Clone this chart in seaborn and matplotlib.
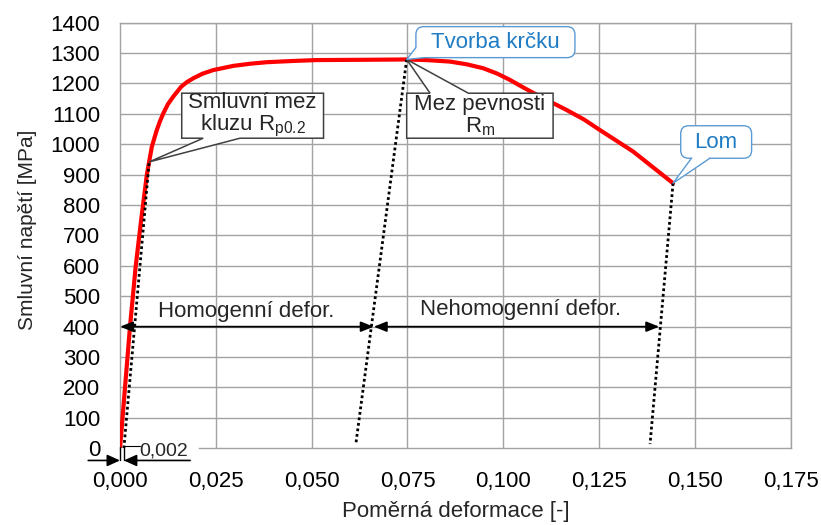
import matplotlib
matplotlib.use("Agg")
import matplotlib.pyplot as plt
import seaborn as sns
import pandas as pd
from matplotlib.patches import Polygon, FancyBboxPatch

# ---------------- data ----------------
strain = [0.0, 0.0013, 0.0026, 0.0041, 0.0055, 0.0070, 0.0077, 0.0083, 0.0090,
          0.0096, 0.0104, 0.0113, 0.0125, 0.0139, 0.0160, 0.0175, 0.0191, 0.0215,
          0.0243, 0.0296, 0.0340, 0.0383, 0.0450, 0.0513, 0.0644, 0.0748, 0.0800,
          0.0861, 0.0905, 0.0948, 0.0985, 0.1017, 0.1055, 0.1096, 0.1165, 0.1210,
          0.1252, 0.1295, 0.1339, 0.1390, 0.1443]
stress = [0, 200, 400, 600, 750, 900, 950, 992, 1022,
          1047, 1075, 1102, 1132, 1157, 1190, 1205, 1217, 1232,
          1244, 1258, 1265, 1270, 1274, 1277, 1278, 1279, 1277,
          1272, 1263, 1250, 1232, 1212, 1185, 1157, 1113, 1082,
          1047, 1012, 976, 925, 872]

yield_pt = (0.0076, 942)          # Rp0.2
peak_pt = (0.0748, 1279)          # Rm / Tvorba krčku
fracture_pt = (0.1443, 872)       # Lom

offset_x = [0.0010, yield_pt[0]]
offset_y = [0, yield_pt[1]]
unload_rm_x = [peak_pt[0], 0.0615]
unload_rm_y = [peak_pt[1], 11]
unload_fr_x = [fracture_pt[0], 0.1383]
unload_fr_y = [fracture_pt[1], 14]

arrow_level = 400
arrow_x = [0.0, 0.0662, 0.1407]

xticks = [0.0, 0.025, 0.05, 0.075, 0.1, 0.125, 0.15, 0.175]
xticklabels = ["0,000", "0,025", "0,050", "0,075", "0,100", "0,125", "0,150", "0,175"]
yticks = list(range(0, 1401, 100))

# ---------------- style ----------------
sns.set_theme(style="white")
plt.rcParams["font.family"] = ["Liberation Sans", "DejaVu Sans"]
plt.rcParams["mathtext.fontset"] = "custom"
plt.rcParams["mathtext.rm"] = "Liberation Sans"
plt.rcParams["mathtext.it"] = "Liberation Sans:italic"
plt.rcParams["mathtext.default"] = "regular"

GRID = "#a3a3a3"
BLUE_TXT = "#1f7cc4"
BLUE_EDGE = "#5b9bd5"
BOX_EDGE = "#404040"

fig = plt.figure(figsize=(8.21, 5.25), dpi=100)
ax = fig.add_axes([0.1462, 0.1461, 0.8169, 0.8107])

# main curve
df = pd.DataFrame({"strain": strain, "stress": stress})
sns.lineplot(data=df, x="strain", y="stress", sort=False, color="#ff0000",
             lw=3.0, ax=ax, zorder=3, solid_joinstyle="round", solid_capstyle="round")

ax.set_xlim(0, 0.175)
ax.set_ylim(0, 1400)

# grid (manual, so that the y=0 line can be partially hidden)
ax.hlines(yticks[1:], 0, 0.175, colors=GRID, lw=1.0, zorder=0.5)
ax.vlines(xticks[1:], 0, 1400, colors=GRID, lw=1.0, zorder=0.5)
for s in ["left", "right", "top", "bottom"]:
    ax.spines[s].set_color(GRID)
    ax.spines[s].set_linewidth(1.0)
ax.spines["bottom"].set_bounds(0.0205, 0.175)

ax.set_xticks(xticks)
ax.set_xticklabels(xticklabels)
ax.set_yticks(yticks)
ax.tick_params(axis="both", length=0, labelsize=16, colors="black")
ax.tick_params(axis="x", pad=16.5)
ax.tick_params(axis="y", pad=14.4)

ax.set_xlabel("Poměrná deformace [-]", fontsize=16)
ax.set_ylabel("Smluvní napětí [MPa]", fontsize=15)
ax.xaxis.set_label_coords(0.5, -0.124)
ax.yaxis.set_label_coords(-0.124, 0.513)

# dotted lines
dot = dict(color="black", lw=2.0, linestyle=(0, (1, 1)), zorder=4)
ax.plot(offset_x, offset_y, **dot)
ax.plot(unload_rm_x, unload_rm_y, **dot)
ax.plot(unload_fr_x, unload_fr_y, **dot)

# deformation arrows
arr = dict(arrowstyle="<|-|>,head_length=0.55,head_width=0.22", color="black",
           lw=1.3, shrinkA=0, shrinkB=0, mutation_scale=14)
ax.annotate("", xy=(arrow_x[0], arrow_level), xytext=(arrow_x[1], arrow_level),
            arrowprops=arr, zorder=4)
ax.annotate("", xy=(arrow_x[1], arrow_level), xytext=(arrow_x[2], arrow_level),
            arrowprops=arr, zorder=4)
ax.text((arrow_x[0] + arrow_x[1]) / 2 - 0.0002, arrow_level + 49, "Homogenní defor.",
        ha="center", va="center", fontsize=16, zorder=6)
ax.text(0.1045, arrow_level + 55, "Nehomogenní defor.",
        ha="center", va="center", fontsize=16, zorder=6)

# 0,002 dimension below the axis
sa = dict(arrowstyle="-|>,head_length=0.55,head_width=0.25", color="black",
          lw=1.2, shrinkA=0, shrinkB=0, mutation_scale=14)
ax.annotate("", xy=(0.0, -40), xytext=(-0.0083, -40), arrowprops=sa,
            annotation_clip=False)
ax.annotate("", xy=(offset_x[0], -40), xytext=(0.0183, -40), arrowprops=sa,
            annotation_clip=False)
ax.plot([0.0, 0.0], [5, -40], color="black", lw=1.0, clip_on=False, zorder=4)
ax.plot([offset_x[0], offset_x[0]], [5, -40], color="black", lw=1.0, clip_on=False, zorder=4)
ax.plot([offset_x[0], 0.0052], [8, 8], color="black", lw=0.8, clip_on=False, zorder=4)
ax.text(0.0115, -8, "0,002", ha="center", va="center", fontsize=14, clip_on=False)

# ---------- callouts ----------
fig.canvas.draw()
bb = ax.get_window_extent()
xpp = 0.175 / bb.width
ypp = 1400 / bb.height
aspect = ypp / xpp


def rect_callout(x0, x1, y0, y1, base, tip, side, text):
    if side == "bottom":
        verts = [(x0, y1), (x1, y1), (x1, y0), (base[1], y0), tip, (base[0], y0), (x0, y0)]
    else:
        verts = [(x0, y0), (x1, y0), (x1, y1), (base[1], y1), tip, (base[0], y1), (x0, y1)]
    ax.add_patch(Polygon(verts, closed=True, fc="white", ec=BOX_EDGE, lw=1.1,
                         zorder=7, joinstyle="miter"))
    ax.text((x0 + x1) / 2, (y0 + y1) / 2, text, ha="center", va="center",
            fontsize=16, linespacing=1.0, zorder=8)


rect_callout(0.0161, 0.0531, 1020, 1168, (0.0217, 0.0313), yield_pt, "bottom",
             "Smluvní mez\nkluzu R$_{p0.2}$")
rect_callout(0.0748, 0.1130, 1020, 1168, (0.0809, 0.0909), peak_pt, "top",
             "Mez pevnosti\nR$_{m}$")


def round_callout(x0, x1, y0, y1, b1, b2, inner, tip, text):
    r = 8 * xpp
    ax.add_patch(FancyBboxPatch((x0, y0), x1 - x0, y1 - y0,
                                boxstyle=f"round,pad=0,rounding_size={r}",
                                mutation_aspect=aspect, fc="white", ec=BLUE_EDGE,
                                lw=1.0, zorder=7, clip_on=False))
    ax.add_patch(Polygon([tip, b1, inner, b2], closed=True, fc="white", ec="none",
                         zorder=7.5, clip_on=False))
    ax.plot([b1[0], tip[0], b2[0]], [b1[1], tip[1], b2[1]], color=BLUE_EDGE,
            lw=1.0, zorder=7.6, clip_on=False)
    ax.text((x0 + x1) / 2, (y0 + y1) / 2, text, ha="center", va="center",
            fontsize=16, color=BLUE_TXT, zorder=8, clip_on=False)


round_callout(0.0772, 0.1187, 1285, 1387, (0.0772, 1318), (0.0793, 1285),
              (0.0800, 1320), peak_pt, "Tvorba krčku")
round_callout(0.1463, 0.1648, 954, 1061, (0.1491, 954), (0.1539, 954),
              (0.1515, 975), fracture_pt, "Lom")

fig.savefig("out.png", dpi=100)
